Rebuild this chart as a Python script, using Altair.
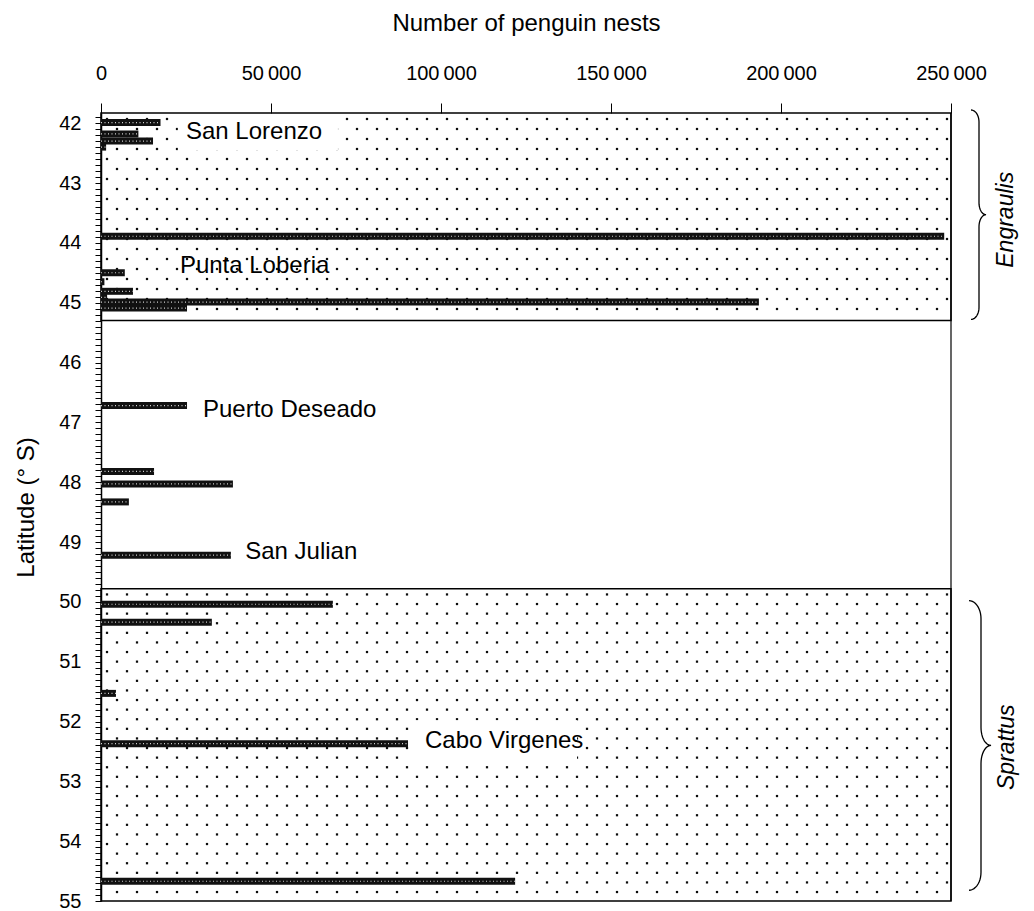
import altair as alt
import pandas as pd
import numpy as np

# ---------------- data ----------------
lat = [41.99, 42.18, 42.30, 42.40, 43.89, 44.50, 44.65, 44.81, 44.91, 44.99, 45.09,
       46.72, 47.82, 48.03, 48.33, 49.22, 50.04, 50.34, 51.53, 52.37, 54.67]
nests = [17500, 11000, 15300, 1500, 248000, 7000, 1000, 9400, 1800, 193500, 25300,
         25300, 15600, 38800, 8200, 38200, 68200, 32600, 4400, 90300, 121800]

site_names = ["San Lorenzo", "Punta Loberia", "Puerto Deseado", "San Julian", "Cabo Virgenes"]
site_x = [25000, 23200, 30000, 42400, 95300]
site_lat = [42.15, 44.38, 46.80, 49.17, 52.32]

x_ticks = [0, 50000, 100000, 150000, 200000, 250000]
lat_labels = list(range(42, 56))

species = ["Engraulis", "Sprattus"]
species_lat0 = [41.83, 49.78]
species_lat1 = [45.30, 55.00]

# ---------------- geometry helpers ----------------
W, H = 850, 788
X_DOM = [0, 250000]
Y_DOM = [41.83, 55.0]
DEG_PX = (Y_DOM[1] - Y_DOM[0]) / H
U_PX = (X_DOM[1] - X_DOM[0]) / W

FONT = "Liberation Sans"


def dot_grid(lat0, lat1, row_px, col_px, stagger):
    rows = np.arange(lat0 + 0.6 * row_px * DEG_PX, lat1 - 0.3 * row_px * DEG_PX, row_px * DEG_PX)
    pts = []
    for i, r in enumerate(rows):
        off = 6 + (col_px / 2 if (stagger and i % 2) else 0)
        for c in np.arange(off, W - 2, col_px):
            pts.append((c * U_PX, r))
    return pd.DataFrame(pts, columns=["x", "lat"])


def brace(lat_top, lat_bot, x0_px, rx1, rx2, ry, name):
    T = (lat_top - Y_DOM[0]) / DEG_PX
    B = (lat_bot - Y_DOM[0]) / DEG_PX
    M = (T + B) / 2
    th = np.linspace(0, np.pi / 2, 12)
    top = []
    top += [(x0_px + rx1 * np.sin(t), T + ry - ry * np.cos(t)) for t in th]
    top += [(x0_px + rx1 + rx2 * (1 - np.cos(t)), M - ry + ry * np.sin(t)) for t in th]
    bot = [(x, 2 * M - y) for (x, y) in reversed(top)]
    pts = top + bot
    return pd.DataFrame({
        "x": [p[0] * U_PX for p in pts],
        "lat": [Y_DOM[0] + p[1] * DEG_PX for p in pts],
        "order": list(range(len(pts))),
        "name": name,
    })


xscale = alt.Scale(domain=X_DOM, nice=False, zero=False)
yscale = alt.Scale(domain=Y_DOM, nice=False, zero=False, reverse=True)

minor = [round(v / 10, 1) for v in range(419, 551)]

x_axis = alt.Axis(
    orient="top", values=x_ticks, domain=False, tickSize=10, tickColor="black",
    labelExpr="replace(format(datum.value, ','), ',', '\u2009')",
    labelFontSize=20, labelPadding=20, labelFont=FONT, labelColor="black",
    titleFontSize=24, titleFont=FONT, titleFontWeight="normal", titlePadding=28,
    titleColor="black", grid=False, labelFlush=False, labelOverlap=False,
)
y_axis = alt.Axis(
    orient="left", values=minor, domain=True, domainColor="black", domainWidth=1.5,
    tickSize=6, tickColor="black", tickWidth=1,
    labelExpr="abs(datum.value - round(datum.value)) < 0.001 ? format(datum.value, 'd') : ''",
    labelFontSize=20, labelPadding=14, labelFont=FONT, labelColor="black",
    titleFontSize=24, titleFont=FONT, titleFontWeight="normal", titlePadding=20,
    titleColor="black", grid=False, labelFlush=False, labelOverlap=False, labelBound=False,
)

XT = "Number of penguin nests"
YT = "Latitude (\u00b0 S)"


def X(field="x"):
    return alt.X(f"{field}:Q", scale=xscale, axis=x_axis, title=XT)


def Y(field="lat"):
    return alt.Y(f"{field}:Q", scale=yscale, axis=y_axis, title=YT)


# ---------------- layers ----------------
dots = pd.concat([
    dot_grid(species_lat0[0], species_lat1[0], 10, 20, True),
    dot_grid(species_lat0[1], species_lat1[1], 9.6, 20, True),
])
dots_layer = alt.Chart(dots).mark_square(size=5, color="black", opacity=0.95).encode(x=X(), y=Y())

white = pd.DataFrame({
    "x": [22600, 91500], "x2": [69700, 140000],
    "lat": [41.87, 51.98], "lat2": [42.45, 52.68],
})
white_layer = alt.Chart(white).mark_rect(color="white").encode(
    x=X(), x2="x2:Q", y=Y(), y2="lat2:Q")

boxes = pd.DataFrame({
    "x": [0, 0], "x2": [250000, 250000],
    "lat": species_lat0, "lat2": species_lat1,
})
box_layer = alt.Chart(boxes).mark_rect(filled=False, stroke="black", strokeWidth=1.5).encode(
    x=X(), x2="x2:Q", y=Y(), y2="lat2:Q")

frame = pd.DataFrame({"x": [250000], "lat": [Y_DOM[0]], "lat2": [Y_DOM[1]]})
frame_layer = alt.Chart(frame).mark_rule(color="black", strokeWidth=1.2).encode(
    x=X(), y=Y(), y2="lat2:Q")

bars = pd.DataFrame({"x": [0] * len(lat), "x2": nests, "lat": lat})
bar_layer = alt.Chart(bars).mark_rule(color="#111111", strokeWidth=7).encode(
    x=X(), x2="x2:Q", y=Y())
bar_tex = alt.Chart(bars).mark_rule(color="white", strokeWidth=1.2, strokeDash=[1, 2.5],
                                    opacity=0.8).encode(x=X(), x2="x2:Q", y=Y())

sites = pd.DataFrame({"x": site_x, "lat": site_lat, "name": site_names})
site_layer = alt.Chart(sites).mark_text(
    align="left", baseline="middle", fontSize=24, font=FONT, color="black").encode(
    x=X(), y=Y(), text="name:N")

braces = pd.concat([
    brace(41.78, 45.28, 870, 8, 7, 12, "Engraulis"),
    brace(49.98, 54.82, 868, 12, 10, 18, "Sprattus"),
])
brace_layer = alt.Chart(braces).mark_line(color="black", strokeWidth=1.3).encode(
    x=X(), y=Y(), order="order:Q", detail="name:N")

spec = pd.DataFrame({
    "x": [(1006 - 101) * U_PX, (1007 - 101) * U_PX],
    "lat": [(species_lat0[0] + species_lat1[0]) / 2 + 0.05, 52.43],
    "name": species,
})
spec_layer = alt.Chart(spec).mark_text(
    angle=270, align="center", baseline="middle", fontSize=23, font=FONT,
    fontStyle="italic", color="black").encode(x=X(), y=Y(), text="name:N")

chart = alt.layer(
    dots_layer, white_layer, box_layer, frame_layer, bar_layer, bar_tex,
    site_layer, brace_layer, spec_layer,
).properties(
    width=W, height=H,
    autosize=alt.AutoSizeParams(type="none"),
    padding={"left": 93, "top": 105, "right": 75, "bottom": 10},
    background="white",
).configure_view(stroke=None)

chart.save("out.html", embed_options={"renderer": "svg", "actions": False})
